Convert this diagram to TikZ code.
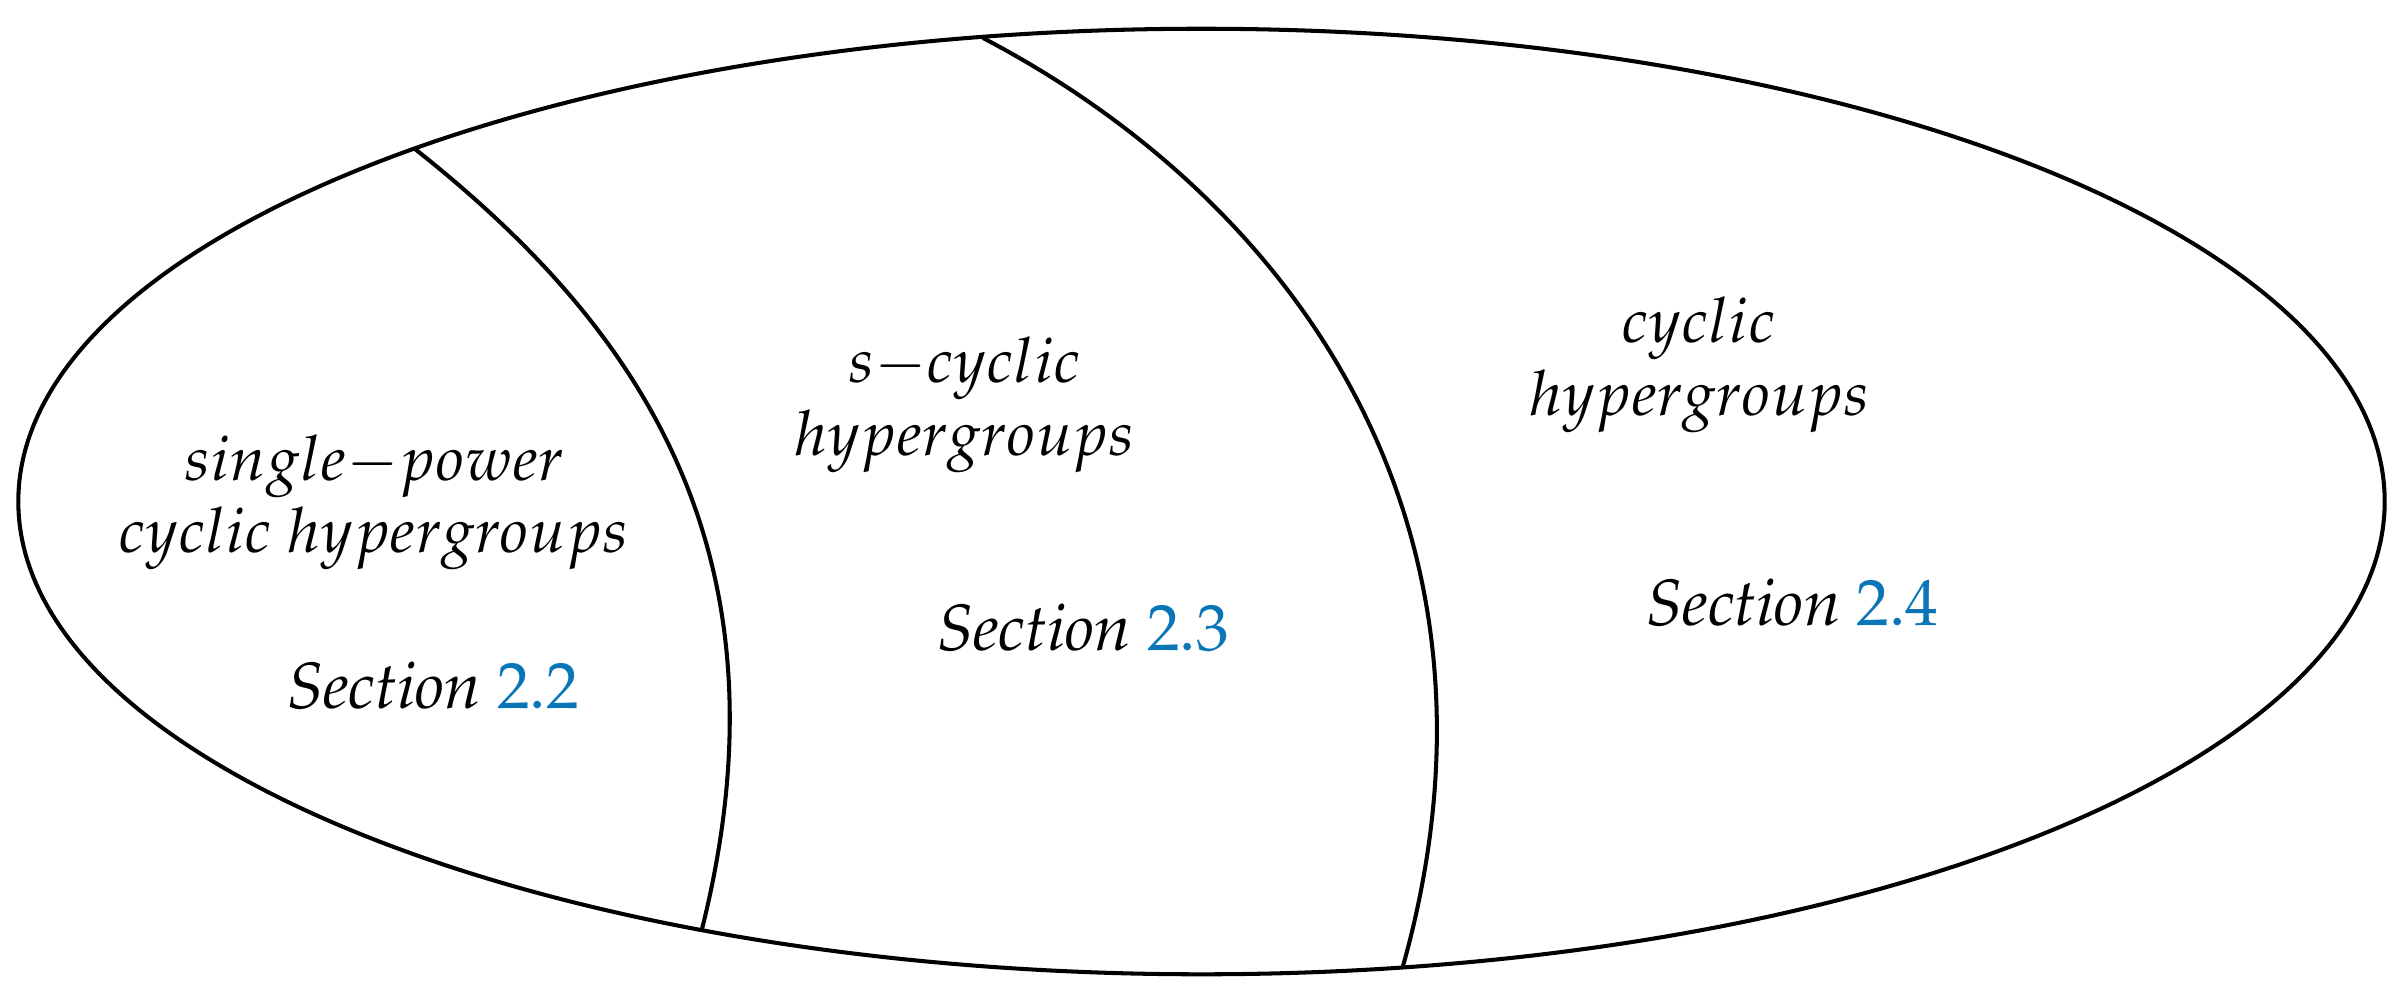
\documentclass[tikz,border=0pt]{standalone}
\usepackage[T1]{fontenc}
\usepackage{mathpazo}
\usepackage{xcolor}
\definecolor{linkblue}{RGB}{10,117,183}
\tikzset{
  region/.style={line width=1.15pt, draw=black},
  mlbl/.style={anchor=base, inner sep=0pt, font=\fontsize{17.8}{20}\selectfont},
  slbl/.style={anchor=base, inner sep=0pt, font=\fontsize{18.6}{20}\selectfont},
}
\begin{document}
\begin{tikzpicture}[x=0.01cm,y=-0.01cm]
\useasboundingbox (0,0) rectangle (2403,999);
\draw[region] (1201.5,501.5) ellipse [x radius=11.825cm, y radius=4.725cm];
\draw[region] (415,149) .. controls (631,320) and (798,545) .. (702,929);
\draw[region] (983,38) .. controls (1284.5,195.5) and (1529,516) .. (1403,966);
\node[mlbl] (sp1) at (374.5,480) {$single{-}power$};
\node[mlbl] (sp2) at (373.5,552) {$cyclic\ hypergroups$};
\node[slbl] (sec22) at (433,708) {\textit{Section} {\color{linkblue}2.2}};
\node[mlbl] (sc1) at (965,382) {$s{-}cyclic$};
\node[mlbl] (sc2) at (964.5,455) {$hypergroups$};
\node[slbl] (sec23) at (1083,650) {\textit{Section} {\color{linkblue}2.3}};
\node[mlbl] (cy1) at (1698.5,342) {$cyclic$};
\node[mlbl] (cy2) at (1699.5,415) {$hypergroups$};
\node[slbl] (sec24) at (1792.5,625) {\textit{Section} {\color{linkblue}2.4}};
\end{tikzpicture}
\end{document}
